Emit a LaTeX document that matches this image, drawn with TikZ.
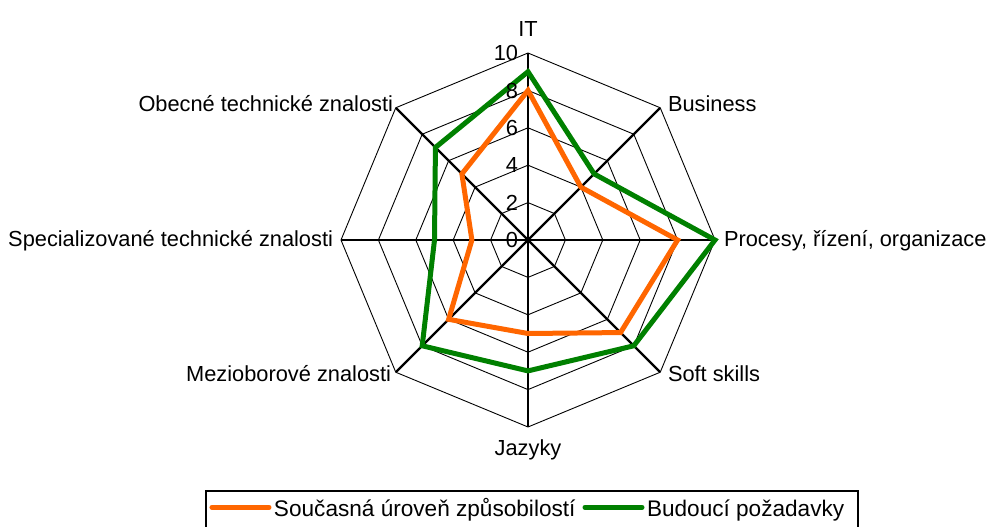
\documentclass[tikz,border=0pt]{standalone}
\usepackage{fontspec}
\setmainfont{Liberation Sans}
\definecolor{curorange}{HTML}{FF6600}
\definecolor{futgreen}{HTML}{008000}
\begin{document}
\begin{tikzpicture}[x=1pt,y=1pt,
  font=\fontsize{21.8}{26}\selectfont,
  gridline/.style={black, line width=0.9pt},
  axisline/.style={black, line width=2.2pt},
  series/.style={line width=5pt, line join=miter},
  legline/.style={line width=5pt, line cap=round},
  lbl/.style={inner sep=0pt, outer sep=0pt},
  legtext/.style={lbl, anchor=base west, font=\fontsize{22.6}{27}\selectfont}]
\useasboundingbox (-528,-287) rectangle (462,240);
\def\unitr{18.7}
% grid rings
\foreach \r in {2,4,6,8,10} {
  \draw[gridline] (90:\r*\unitr) -- (45:\r*\unitr) -- (0:\r*\unitr) -- (-45:\r*\unitr)
    -- (-90:\r*\unitr) -- (-135:\r*\unitr) -- (180:\r*\unitr) -- (135:\r*\unitr) -- cycle;
}
% axes
\coordinate (c) at (0,0);
\coordinate (aIT) at (90:10*\unitr);
\coordinate (aBus) at (45:10*\unitr);
\coordinate (aPro) at (0:10*\unitr);
\coordinate (aSoft) at (-45:10*\unitr);
\coordinate (aJaz) at (-90:10*\unitr);
\coordinate (aMez) at (-135:10*\unitr);
\coordinate (aSpe) at (180:10*\unitr);
\coordinate (aObe) at (135:10*\unitr);
\foreach \a in {aIT,aBus,aPro,aSoft,aJaz,aMez,aSpe,aObe} {
  \draw[axisline] (c) -- (\a);
}
% data points
\coordinate (o1) at (90:8*\unitr);
\coordinate (o2) at (45:4*\unitr);
\coordinate (o3) at (0:8*\unitr);
\coordinate (o4) at (-45:7*\unitr);
\coordinate (o5) at (-90:5*\unitr);
\coordinate (o6) at (-135:6*\unitr);
\coordinate (o7) at (180:3*\unitr);
\coordinate (o8) at (135:5*\unitr);
\coordinate (g1) at (90:9*\unitr);
\coordinate (g2) at (45:5*\unitr);
\coordinate (g3) at (0:10*\unitr);
\coordinate (g4) at (-45:8*\unitr);
\coordinate (g5) at (-90:7*\unitr);
\coordinate (g6) at (-135:8*\unitr);
\coordinate (g7) at (180:5*\unitr);
\coordinate (g8) at (135:7*\unitr);
\draw[series, curorange] (o1) -- (o2) -- (o3) -- (o4) -- (o5) -- (o6) -- (o7) -- (o8) -- cycle;
\draw[series, futgreen] (g1) -- (g2) -- (g3) -- (g4) -- (g5) -- (g6) -- (g7) -- (g8) -- cycle;
% tick labels
\foreach \v in {0,2,4,6,8,10} {
  \node[lbl, anchor=base east] (t\v) at (-10, \v*\unitr-7.7) {\v};
}
% category labels
\node[lbl, anchor=base] (lIT) at (0,203.3) {IT};
\node[lbl, anchor=base west] (lBus) at (140,128) {Business};
\node[lbl, anchor=base west] (lPro) at (196,-6.7) {Procesy, řízení, organizace};
\node[lbl, anchor=base west] (lSoft) at (140,-141.7) {Soft skills};
\node[lbl, anchor=base] (lJaz) at (0,-215) {Jazyky};
\node[lbl, anchor=base east] (lMez) at (-137,-141.7) {Mezioborové znalosti};
\node[lbl, anchor=base east] (lSpe) at (-195,-6.7) {Specializované technické znalosti};
\node[lbl, anchor=base east] (lObe) at (-135,128) {Obecné technické znalosti};
% legend
\draw[black, line width=1.8pt] (-322,-292) rectangle (330,-251);
\coordinate (lo1) at (-316,-267.3);
\coordinate (lo2) at (-259,-267.3);
\coordinate (lg1) at (57,-267.3);
\coordinate (lg2) at (114,-267.3);
\draw[legline, curorange] (lo1) -- (lo2);
\draw[legline, futgreen] (lg1) -- (lg2);
\node[legtext] (leg1) at (-254,-276.5) {Současná úroveň způsobilostí};
\node[legtext] (leg2) at (119,-276.5) {Budoucí požadavky};
\end{tikzpicture}
\end{document}
